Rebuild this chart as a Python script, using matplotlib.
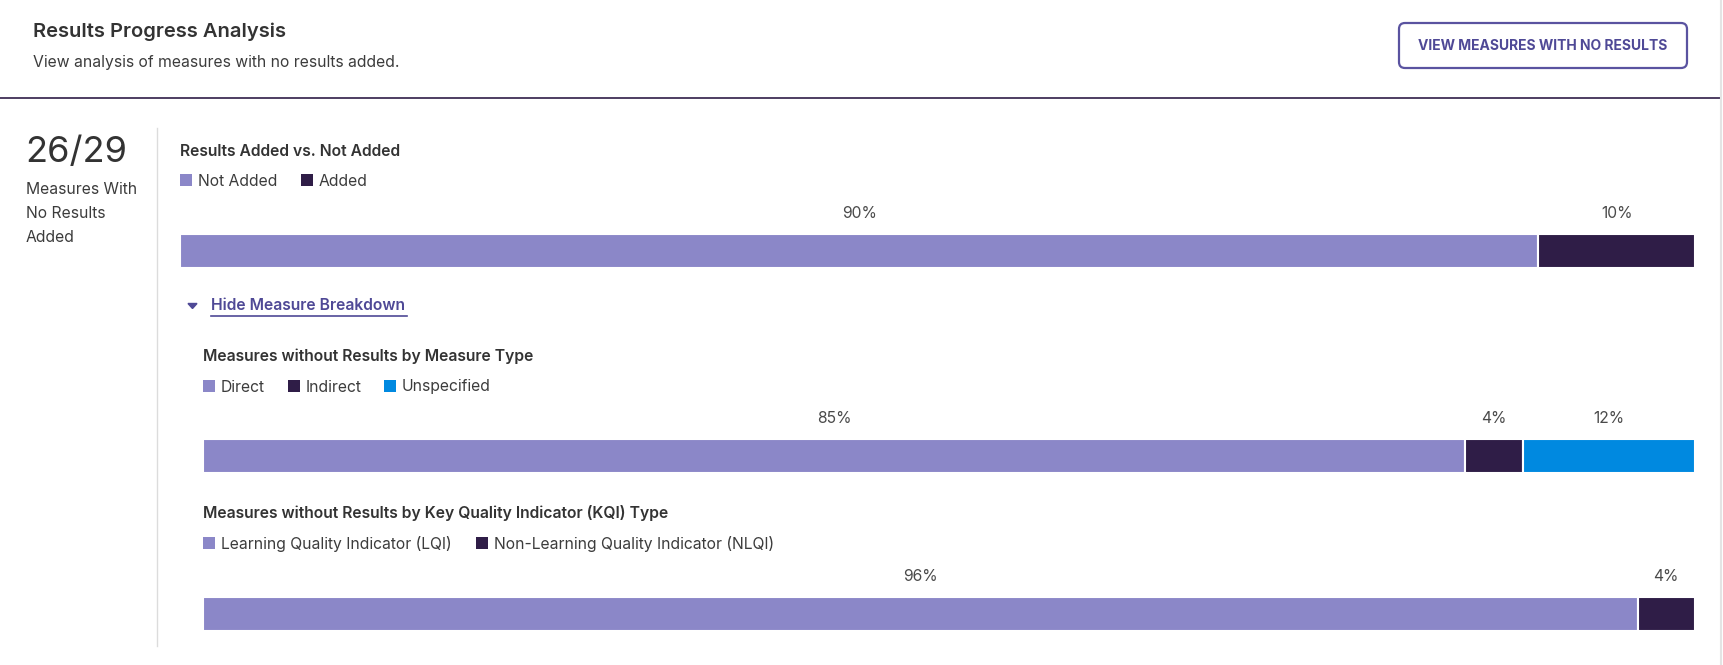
import matplotlib.pyplot as plt
from matplotlib.patches import FancyBboxPatch, Rectangle, Polygon

# === DATA ===

measures_without = 26
measures_total = 29

overall_labels = ["Not Added", "Added"]
overall_counts = [26, 3]

type_labels = ["Direct", "Indirect", "Unspecified"]
type_counts = [22, 1, 3]

kqi_labels = ["Learning Quality Indicator (LQI)", "Non-Learning Quality Indicator (NLQI)"]
kqi_counts = [25, 1]

seg_colors = ["#8b87c8", "#2f1d47", "#0089e0"]

# === LAYOUT (pixels) ===

W, H = 1724, 665
plt.rcParams["font.family"] = ["Inter", "DejaVu Sans"]
dark = "#333333"
accent = "#4f4996"
fs = 11.3

fig = plt.figure(figsize=(W / 100, H / 100), dpi=100)

bg = fig.add_axes([0, 0, 1, 1])
bg.set_xlim(0, W)
bg.set_ylim(H, 0)
bg.axis("off")

# header
bg.text(33, 32, "Results Progress Analysis", fontsize=14.5, fontweight="semibold",
        color=dark, va="center")
bg.text(33, 63, "View analysis of measures with no results added.", fontsize=fs,
        color="#3c3c3c", va="center")
bg.add_patch(FancyBboxPatch((1399, 23), 288, 45, boxstyle="round,pad=0,rounding_size=6",
                            fill=False, edgecolor="#5a53a0", linewidth=1.6))
bg.text(1543, 46, "VIEW MEASURES WITH NO RESULTS", fontsize=10, fontweight="bold",
        color=accent, ha="center", va="center")
bg.plot([0, 1721], [98, 98], color="#2f1d47", linewidth=1.2)
bg.plot([1721, 1721], [0, H], color="#e4e4e4", linewidth=1.5)

# left summary
bg.plot([157, 157], [128, 646], color="#dcdcdc", linewidth=1)
bg.text(25, 152, f"{measures_without}/{measures_total}", fontsize=26, color=dark, va="center")
for i, line in enumerate(["Measures With", "No Results", "Added"]):
    bg.text(26, 189 + 24 * i, line, fontsize=fs, color="#3c3c3c", va="center")


def legend_row(x_positions, y, labels):
    for x, lab, col in zip(x_positions, labels, seg_colors):
        bg.add_patch(Rectangle((x, y - 6), 12, 12, color=col, linewidth=0))
        bg.text(x + 18, y + 1, lab, fontsize=fs, color="#3c3c3c", va="center")


def stacked_bar(x0, x1, y0, y1, counts):
    ax = fig.add_axes([x0 / W, 1 - y1 / H, (x1 - x0) / W, (y1 - y0) / H])
    total = sum(counts)
    left = 0
    for c, col in zip(counts, seg_colors):
        ax.barh(0, c, left=left, height=1, color=col, edgecolor="white", linewidth=1.5)
        ax.annotate(f"{round(100 * c / total)}%", xy=(left + c / 2, 1),
                    xycoords=("data", "axes fraction"), xytext=(0, 14.5),
                    textcoords="offset points", ha="center", va="center",
                    fontsize=fs, color="#4a4a4a")
        left += c
    ax.set_xlim(0, total)
    ax.set_ylim(-0.5, 0.5)
    ax.axis("off")


# overall
bg.text(180, 152, "Results Added vs. Not Added", fontsize=fs, fontweight="semibold",
        color=dark, va="center")
legend_row([180, 301], 180, overall_labels)
stacked_bar(180, 1695, 234, 268, overall_counts)

# breakdown toggle
bg.add_patch(Polygon([(188, 303.5), (197, 303.5), (192.5, 308.5)], color=accent))
bg.text(211, 306, "Hide Measure Breakdown", fontsize=fs, fontweight="semibold",
        color=accent, va="center")
bg.plot([211, 407], [315.5, 315.5], color=accent, linewidth=1.2)

# by measure type
bg.text(203, 356, "Measures without Results by Measure Type", fontsize=fs,
        fontweight="semibold", color=dark, va="center")
legend_row([203, 288, 384], 386, type_labels)
stacked_bar(203, 1695, 439, 473, type_counts)

# by KQI type
bg.text(203, 513, "Measures without Results by Key Quality Indicator (KQI) Type",
        fontsize=fs, fontweight="semibold", color=dark, va="center")
legend_row([203, 476], 543, kqi_labels)
stacked_bar(203, 1695, 597, 631, kqi_counts)

fig.savefig("out.png", dpi=100, facecolor="white")
